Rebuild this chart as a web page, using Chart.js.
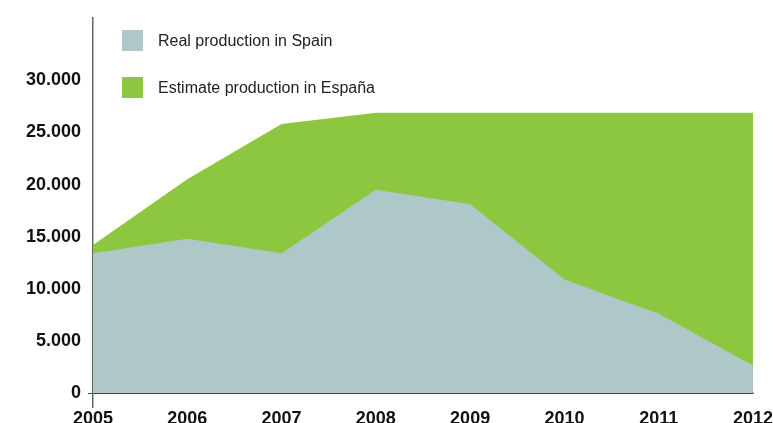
<!DOCTYPE html>
<html>
<head>
<meta charset="utf-8">
<script src="https://cdn.jsdelivr.net/npm/chart.js@4/dist/chart.umd.min.js"></script>
<style>
  html, body { margin: 0; padding: 0; background: #fff; }
  #wrap { position: relative; width: 773px; height: 423px; }
  #legend { position: absolute; left: 122px; top: 30px; font: 16px "Liberation Sans", Arial, sans-serif; color: #222; }
  #legend .item { display: flex; align-items: center; height: 21px; margin-bottom: 26px; }
  #legend .box { width: 21px; height: 21px; margin-right: 15px; }
</style>
</head>
<body>
<div id="wrap">
  <canvas id="chart" width="773" height="423"></canvas>
  <div id="legend"></div>
</div>
<script>
// data
const years = ['2005', '2006', '2007', '2008', '2009', '2010', '2011', '2012'];
const realSpain = [13400, 14800, 13400, 19500, 18100, 10900, 7600, 2650];
const estimateEspana = [14200, 20500, 25800, 26900, 26900, 26900, 26900, 26900];
const yTicks = [0, 5000, 10000, 15000, 20000, 25000, 30000];
const seriesNames = ['Real production in Spain', 'Estimate production in España'];
const seriesColors = ['#aec8c9', '#8dc63f'];

const tickFont = { family: '"Liberation Sans", Arial, sans-serif', size: 18, weight: 'bold' };
const fmt = v => String(v).replace(/\B(?=(\d{3})+(?!\d))/g, '.');

const chart = new Chart(document.getElementById('chart'), {
    type: 'line',
    data: {
        labels: years,
        datasets: [
            { label: seriesNames[0], data: realSpain, backgroundColor: seriesColors[0], fill: 'origin' },
            { label: seriesNames[1], data: estimateEspana, backgroundColor: seriesColors[1], fill: 'origin' }
        ].map(ds => ({ ...ds, borderWidth: 0, pointRadius: 0, tension: 0 }))
    },
    options: {
        responsive: false,
        animation: false,
        layout: { padding: { top: 15, right: 20, left: 0, bottom: 0 } },
        plugins: { legend: { display: false }, tooltip: { enabled: false } },
        scales: {
            x: {
                offset: false,
                border: { display: true, color: '#444', width: 2 },
                grid: {
                    drawOnChartArea: false, drawTicks: true, tickLength: 15,
                    color: ctx => ctx.index === 0 ? '#666' : 'rgba(0,0,0,0)', lineWidth: 1.5
                },
                ticks: { color: '#111', font: tickFont, padding: 0, maxRotation: 0, autoSkip: false },
                afterFit: s => { s.height = 30; }
            },
            y: {
                min: 0, max: 36000,
                border: { display: true, color: '#666', width: 1.5 },
                grid: {
                    drawOnChartArea: false, drawTicks: true, tickLength: 5,
                    color: ctx => ctx.tick && ctx.tick.value === 0 ? '#444' : 'rgba(0,0,0,0)'
                },
                ticks: { color: '#111', font: tickFont, padding: 7, callback: v => fmt(v) },
                afterBuildTicks: s => { s.ticks = yTicks.map(v => ({ value: v })); },
                afterFit: s => { s.width = 93; }
            }
        }
    }
});

const legend = document.getElementById('legend');
chart.data.datasets.forEach(ds => {
    const item = document.createElement('div');
    item.className = 'item';
    item.innerHTML = '<span class="box" style="background:' + ds.backgroundColor + '"></span><span>' + ds.label + '</span>';
    legend.appendChild(item);
});
</script>
</body>
</html>
